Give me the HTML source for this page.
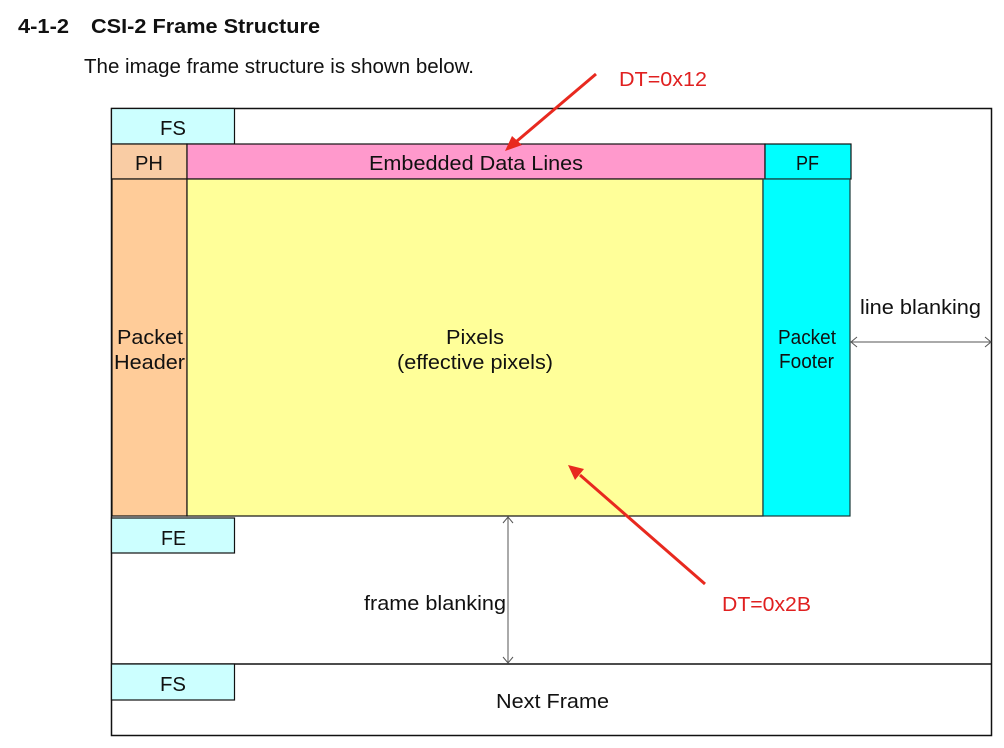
<!DOCTYPE html>
<html><head><meta charset="utf-8"><style>
html,body{margin:0;padding:0;background:#fff;}
svg{display:block;font-family:"Liberation Sans",sans-serif;}
</style></head><body>
<svg width="1004" height="748" viewBox="0 0 1004 748" xmlns="http://www.w3.org/2000/svg">
<text x="18" y="33" font-size="20" font-weight="bold" fill="#111" textLength="51" lengthAdjust="spacingAndGlyphs">4-1-2</text>
<text x="91" y="33" font-size="20" font-weight="bold" fill="#111" textLength="229" lengthAdjust="spacingAndGlyphs">CSI-2 Frame Structure</text>
<text x="84" y="73" font-size="20" fill="#111" textLength="390" lengthAdjust="spacingAndGlyphs">The image frame structure is shown below.</text>

<rect x="111.5" y="108.5" width="880" height="627" fill="#fff" stroke="#111" stroke-width="1.5"/>
<line x1="111" y1="664" x2="992" y2="664" stroke="#111" stroke-width="1.5"/>

<rect x="111.5" y="108.5" width="123" height="35.5" fill="#ccffff" stroke="#111" stroke-width="1.2"/>
<text x="160" y="135" font-size="20" fill="#111" textLength="26" lengthAdjust="spacingAndGlyphs">FS</text>

<rect x="111.5" y="144" width="75.5" height="35" fill="#f9cca4" stroke="#111" stroke-width="1.2"/>
<text x="135" y="170" font-size="20" fill="#111" textLength="28" lengthAdjust="spacingAndGlyphs">PH</text>
<rect x="187" y="144" width="578" height="35" fill="#ff99cc" stroke="#111" stroke-width="1.2"/>
<text x="369" y="170" font-size="20" fill="#111" textLength="214" lengthAdjust="spacingAndGlyphs">Embedded Data Lines</text>
<rect x="765" y="144" width="86" height="35" fill="#00ffff" stroke="#111" stroke-width="1.2"/>
<text x="796" y="170" font-size="20" fill="#111" textLength="23" lengthAdjust="spacingAndGlyphs">PF</text>

<rect x="112" y="179" width="75" height="337" fill="#ffcc99" stroke="#111" stroke-width="1.2"/>
<text x="117" y="344" font-size="20" fill="#111" textLength="66" lengthAdjust="spacingAndGlyphs">Packet</text>
<text x="114" y="369" font-size="20" fill="#111" textLength="71" lengthAdjust="spacingAndGlyphs">Header</text>
<rect x="187" y="179" width="576" height="337" fill="#ffff99" stroke="#111" stroke-width="1.2"/>
<text x="446" y="344" font-size="20" fill="#111" textLength="58" lengthAdjust="spacingAndGlyphs">Pixels</text>
<text x="397" y="369" font-size="20" fill="#111" textLength="156" lengthAdjust="spacingAndGlyphs">(effective pixels)</text>
<rect x="763" y="179" width="87" height="337" fill="#00ffff" stroke="#1a3a3a" stroke-width="1.2"/>
<text x="778" y="344" font-size="20" fill="#111" textLength="58" lengthAdjust="spacingAndGlyphs">Packet</text>
<text x="779" y="368" font-size="20" fill="#111" textLength="55" lengthAdjust="spacingAndGlyphs">Footer</text>

<rect x="111.5" y="518" width="123" height="35" fill="#ccffff" stroke="#111" stroke-width="1.2"/>
<text x="161" y="545" font-size="20" fill="#111" textLength="25" lengthAdjust="spacingAndGlyphs">FE</text>
<rect x="111.5" y="664" width="123" height="36" fill="#ccffff" stroke="#111" stroke-width="1.2"/>
<text x="160" y="691" font-size="20" fill="#111" textLength="26" lengthAdjust="spacingAndGlyphs">FS</text>

<text x="496" y="708" font-size="20" fill="#111" textLength="113" lengthAdjust="spacingAndGlyphs">Next Frame</text>

<line x1="851" y1="342" x2="991" y2="342" stroke="#555" stroke-width="1"/>
<path d="M857,337 L851,342 L857,347 M985,337 L991,342 L985,347" fill="none" stroke="#555" stroke-width="1"/>
<text x="860" y="314" font-size="20" fill="#111" textLength="121" lengthAdjust="spacingAndGlyphs">line blanking</text>

<line x1="508" y1="517" x2="508" y2="663" stroke="#555" stroke-width="1"/>
<path d="M503,523 L508,517 L513,523 M503,657 L508,663 L513,657" fill="none" stroke="#555" stroke-width="1"/>
<text x="364" y="610" font-size="20" fill="#111" textLength="142" lengthAdjust="spacingAndGlyphs">frame blanking</text>

<path d="M596,74 L517,141" stroke="#e8291f" stroke-width="3" fill="none"/>
<path d="M505,151 L512,136 L522,145 Z" fill="#e8291f"/>
<path d="M705,584 L580,475" stroke="#e8291f" stroke-width="3" fill="none"/>
<path d="M568,465 L584,469 L575,480 Z" fill="#e8291f"/>
<text x="619" y="86" font-size="20" fill="#e02020" textLength="88" lengthAdjust="spacingAndGlyphs">DT=0x12</text>
<text x="722" y="611" font-size="20" fill="#e02020" textLength="89" lengthAdjust="spacingAndGlyphs">DT=0x2B</text>
</svg>
</body></html>
